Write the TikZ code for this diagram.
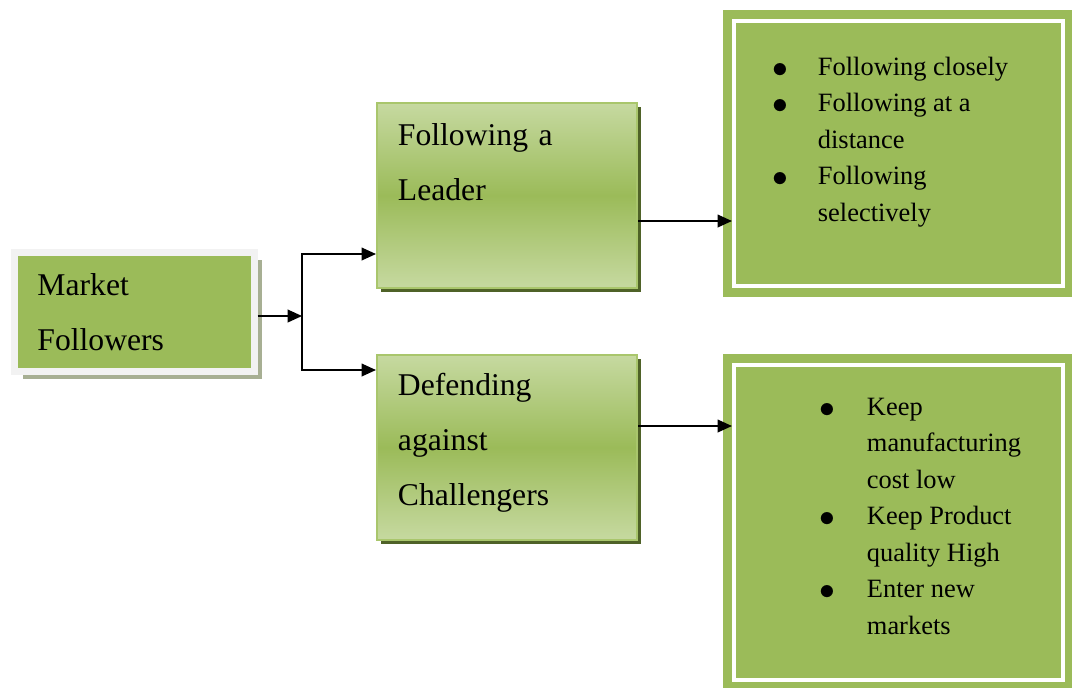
\documentclass[tikz,border=0pt]{standalone}
\usepackage{graphicx}
\usepackage{fontspec}
\setmainfont{Liberation Serif}
\usetikzlibrary{arrows.meta, shadows}

\definecolor{leafgreen}{HTML}{9BBB59}
\definecolor{palegreen}{HTML}{C6D9A0}
\definecolor{edgegreen}{HTML}{A9C66C}
\definecolor{darkolive}{HTML}{4F6228}
\definecolor{framegray}{HTML}{F2F2F2}
\definecolor{shadegray}{HTML}{A7AF93}

\newcommand{\dotmark}{\raisebox{-0.05cm}{\scalebox{1.3}{$\bullet$}}}

\begin{document}
\begin{tikzpicture}[x=0.025cm, y=-0.025cm,
        rootbox/.style={fill=leafgreen, draw=framegray, line width=0.175cm,
            minimum width=5.975cm, minimum height=2.975cm,
            text width=4.85cm, inner xsep=0.5625cm, align=left,
            font=\fontsize{22.5}{39}\selectfont,
            drop shadow={shadow xshift=0.19cm, shadow yshift=-0.19cm, fill=shadegray, opacity=1}},
        stepbox/.style={draw=edgegreen, line width=0.05cm,
            top color=palegreen, bottom color=palegreen, middle color=leafgreen,
            minimum width=6.5cm, minimum height=4.6cm,
            text width=5.45cm, inner xsep=0.525cm, align=left,
            font=\fontsize{22.5}{39}\selectfont,
            drop shadow={shadow xshift=0.1cm, shadow yshift=-0.1cm, fill=darkolive, opacity=1}},
        listbox/.style={fill=leafgreen, draw=white, line width=0.1cm,
            preaction={draw=leafgreen, line width=0.55cm},
            minimum width=8.225cm, font=\fontsize{18.8}{26}\selectfont},
        link/.style={-{Triangle[length=0.36cm, width=0.32cm]}, line width=1pt}]
    \useasboundingbox (0,0) rectangle (1072,687);

    \node[rootbox] (mf) at (134.5, 312) {Market\\Followers};

    \node[stepbox] (lead) at (507, 195.5) {Following a\\Leader\\\mbox{}\rule[-0.3cm]{0pt}{0pt}};
    \node[stepbox] (defend) at (507, 447.5) {Defending\\against\\Challengers\rule[-0.4cm]{0pt}{0pt}};

    \node[listbox, minimum height=6.625cm] (list1) at (898.5, 153.5) {%
        \begin{tabular}{@{}l@{}l@{\hspace{0.4cm}}}
            \makebox[1.125cm][l]{\dotmark} & Following closely\\
            \dotmark & Following at a\\
             & distance\\
            \dotmark & Following\\
             & selectively\\[0.625cm]
        \end{tabular}};
    \node[listbox, minimum height=7.875cm] (list2) at (898.5, 522.5) {%
        \begin{tabular}{@{\hspace{1.1cm}}l@{}l@{}}
            \makebox[1.175cm][l]{\dotmark} & Keep\\
             & manufacturing\\
             & cost low\\
            \dotmark & Keep Product\\
             & quality High\\
            \dotmark & Enter new\\
             & markets\\[0.25cm]
        \end{tabular}};

    \coordinate (split) at (302, 316);
    \draw[link] (mf.east |- split) -- (split);
    \draw[link] (split) |- (lead.west |- 0,254);
    \draw[link] (split) |- (defend.west |- 0,370);

    \draw[link] (lead.east |- 0,221) -- (list1.west |- 0,221);
    \draw[link] (defend.east |- 0,426) -- (list2.west |- 0,426);
\end{tikzpicture}
\end{document}
